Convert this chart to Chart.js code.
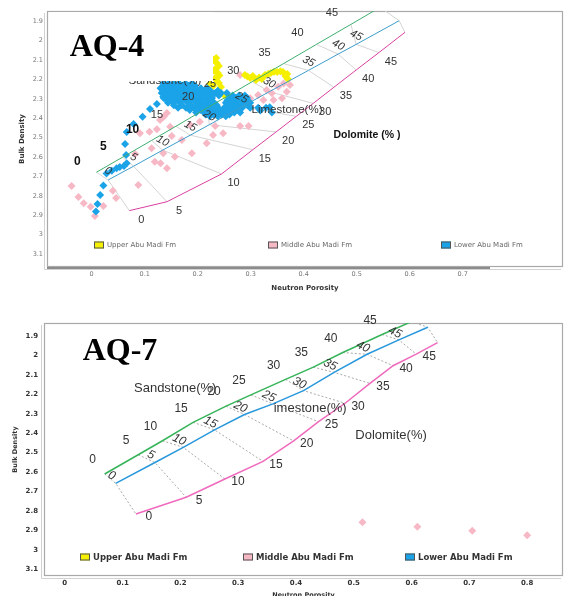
<!DOCTYPE html>
<html>
<head>
<meta charset="utf-8">
<script src="https://cdn.jsdelivr.net/npm/chart.js@4.4.1/dist/chart.umd.min.js"></script>
<style>
  html, body { margin: 0; padding: 0; background: #fff; }
  body { width: 567px; height: 596px; position: relative; overflow: hidden; }
  canvas { position: absolute; left: 0; }
  #aq4 { top: 0; }
  #aq7 { top: 300px; }
</style>
</head>
<body>
<canvas id="aq4" width="567" height="296"></canvas>
<canvas id="aq7" width="567" height="296"></canvas>
<script>
// ---- axis ticks ----
const porosityTicks = [0, 5, 10, 15, 20, 25, 30, 35, 40, 45];
const densityTicks = [1.9, 2, 2.1, 2.2, 2.3, 2.4, 2.5, 2.6, 2.7, 2.8, 2.9, 3, 3.1];
const neutronTicksAQ4 = [0, 0.1, 0.2, 0.3, 0.4, 0.5, 0.6, 0.7];
const neutronTicksAQ7 = [0, 0.1, 0.2, 0.3, 0.4, 0.5, 0.6, 0.7, 0.8];

// ---- AQ-4 lithology lines: [neutron porosity, bulk density] at 0..45 %, last point = line end ----
const aq4Sandstone = [[0.009, 2.678], [0.058, 2.601], [0.113, 2.514], [0.159, 2.441], [0.218, 2.346],
  [0.259, 2.281], [0.303, 2.211], [0.362, 2.118], [0.424, 2.019], [0.489, 1.916], [0.544, 1.828]];
const aq4Limestone = [[0.031, 2.718], [0.079, 2.647], [0.134, 2.564], [0.186, 2.487], [0.222, 2.433],
  [0.283, 2.341], [0.335, 2.263], [0.409, 2.153], [0.465, 2.069], [0.499, 2.019], [0.580, 1.897]];
const aq4Dolomite = [[0.071, 2.876], [0.142, 2.830], [0.245, 2.687], [0.304, 2.562], [0.348, 2.470],
  [0.386, 2.390], [0.418, 2.323], [0.457, 2.240], [0.499, 2.151], [0.542, 2.061], [0.591, 1.957]];

// ---- AQ-4 well data ----
const aq4Upper = [[0.235, 2.089], [0.236, 2.115], [0.235, 2.141], [0.238, 2.166], [0.233, 2.192],
  [0.240, 2.218], [0.229, 2.233], [0.244, 2.239], [0.223, 2.223], [0.250, 2.280], [0.257, 2.290],
  [0.230, 2.100], [0.240, 2.130], [0.231, 2.155], [0.241, 2.180], [0.236, 2.205],
  [0.289, 2.177], [0.299, 2.192], [0.304, 2.182], [0.310, 2.203], [0.321, 2.197], [0.327, 2.177],
  [0.338, 2.166], [0.350, 2.161], [0.361, 2.161], [0.369, 2.172], [0.370, 2.197],
  [0.294, 2.185], [0.316, 2.190], [0.333, 2.172], [0.344, 2.160], [0.356, 2.158], [0.366, 2.185]];
const aq4Middle = [[-0.038, 2.749], [-0.025, 2.806], [-0.015, 2.838], [-0.002, 2.856], [0.006, 2.904],
  [0.022, 2.852], [0.040, 2.773], [0.046, 2.811], [0.088, 2.744], [0.082, 2.584], [0.091, 2.477],
  [0.109, 2.469], [0.123, 2.457], [0.129, 2.409], [0.136, 2.392], [0.142, 2.373], [0.151, 2.491],
  [0.170, 2.512], [0.189, 2.580], [0.119, 2.624], [0.130, 2.632], [0.142, 2.658], [0.135, 2.580],
  [0.113, 2.555], [0.157, 2.598], [0.186, 2.435], [0.204, 2.418], [0.148, 2.443], [0.217, 2.529],
  [0.233, 2.440], [0.248, 2.477], [0.280, 2.440], [0.296, 2.440], [0.229, 2.486], [0.280, 2.177],
  [0.314, 2.280], [0.330, 2.254], [0.352, 2.237], [0.362, 2.220], [0.343, 2.306], [0.340, 2.271],
  [0.368, 2.263], [0.299, 2.297], [0.324, 2.306], [0.359, 2.297], [0.365, 2.177], [0.220, 2.245],
  [0.374, 2.228]];
const aq4Lower = [
  // chain along the sandstone line
  [0.008, 2.881], [0.011, 2.842], [0.016, 2.795], [0.022, 2.747], [0.028, 2.684], [0.038, 2.670],
  [0.047, 2.658], [0.053, 2.651], [0.061, 2.646], [0.066, 2.632], [0.065, 2.589], [0.063, 2.532],
  [0.066, 2.471], [0.079, 2.429], [0.096, 2.392], [0.110, 2.352], [0.123, 2.326], [0.135, 2.289],
  [0.131, 2.244],
  // main cluster
  [0.135, 2.22], [0.145, 2.22], [0.155, 2.22], [0.165, 2.22], [0.177, 2.22], [0.189, 2.22],
  [0.140, 2.2325], [0.150, 2.2325], [0.160, 2.2325], [0.171, 2.2325], [0.183, 2.2325], [0.195, 2.2325],
  [0.130, 2.245], [0.140, 2.245], [0.150, 2.245], [0.160, 2.245], [0.172, 2.245], [0.183, 2.245],
  [0.195, 2.245], [0.206, 2.245], [0.218, 2.245],
  [0.135, 2.2575], [0.145, 2.2575], [0.155, 2.2575], [0.166, 2.2575], [0.177, 2.2575], [0.189, 2.2575],
  [0.200, 2.2575], [0.212, 2.2575], [0.224, 2.2575], [0.238, 2.2575],
  [0.132, 2.27], [0.143, 2.27], [0.153, 2.27], [0.165, 2.27], [0.176, 2.27], [0.187, 2.27],
  [0.199, 2.27], [0.210, 2.27], [0.221, 2.27], [0.233, 2.27], [0.244, 2.27], [0.255, 2.27],
  [0.138, 2.2825], [0.148, 2.2825], [0.159, 2.2825], [0.170, 2.2825], [0.181, 2.2825], [0.193, 2.2825],
  [0.205, 2.2825], [0.216, 2.2825], [0.227, 2.2825], [0.240, 2.2825], [0.266, 2.2825], [0.278, 2.2825],
  [0.289, 2.2825],
  [0.136, 2.295], [0.148, 2.295], [0.159, 2.295], [0.170, 2.295], [0.182, 2.295], [0.193, 2.295],
  [0.204, 2.295], [0.216, 2.295], [0.227, 2.295], [0.261, 2.295], [0.272, 2.295], [0.284, 2.295],
  [0.293, 2.295],
  [0.142, 2.3075], [0.153, 2.3075], [0.164, 2.3075], [0.176, 2.3075], [0.188, 2.3075], [0.199, 2.3075],
  [0.210, 2.3075], [0.222, 2.3075], [0.256, 2.3075], [0.268, 2.3075], [0.280, 2.3075], [0.292, 2.3075],
  [0.144, 2.32], [0.155, 2.32], [0.167, 2.32], [0.182, 2.32], [0.197, 2.32], [0.208, 2.32],
  [0.219, 2.32], [0.231, 2.32], [0.253, 2.32], [0.265, 2.32], [0.276, 2.32], [0.288, 2.32],
  [0.299, 2.32],
  [0.155, 2.3325], [0.170, 2.3325], [0.187, 2.3325], [0.200, 2.3325], [0.212, 2.3325], [0.224, 2.3325],
  [0.236, 2.3325], [0.259, 2.3325], [0.270, 2.3325], [0.282, 2.3325], [0.294, 2.3325],
  [0.163, 2.345], [0.178, 2.345], [0.193, 2.345], [0.204, 2.345], [0.216, 2.345], [0.227, 2.345],
  [0.238, 2.345], [0.250, 2.345], [0.261, 2.345], [0.272, 2.345], [0.284, 2.345], [0.299, 2.345],
  [0.314, 2.345], [0.329, 2.345],
  [0.185, 2.3575], [0.205, 2.3575], [0.218, 2.3575], [0.230, 2.3575], [0.242, 2.3575], [0.254, 2.3575],
  [0.266, 2.3575], [0.277, 2.3575],
  [0.197, 2.37], [0.212, 2.37], [0.223, 2.37], [0.235, 2.37], [0.246, 2.37], [0.257, 2.37],
  [0.269, 2.37], [0.280, 2.37], [0.340, 2.37],
  [0.215, 2.38], [0.230, 2.38], [0.245, 2.38], [0.260, 2.38],
  [0.223, 2.39], [0.238, 2.39], [0.253, 2.39],
  [0.318, 2.36], [0.336, 2.343]];

// ---- AQ-7 lithology lines ----
const aq7Sandstone = [[0.069, 2.610], [0.127, 2.511], [0.169, 2.439], [0.222, 2.344], [0.279, 2.261],
  [0.322, 2.203], [0.382, 2.123], [0.430, 2.060], [0.481, 1.985], [0.549, 1.892], [0.600, 1.826]];
const aq7Limestone = [[0.088, 2.658], [0.156, 2.551], [0.205, 2.473], [0.259, 2.383], [0.311, 2.304],
  [0.360, 2.249], [0.413, 2.181], [0.466, 2.087], [0.523, 1.994], [0.578, 1.920], [0.628, 1.855]];
const aq7Dolomite = [[0.123, 2.816], [0.210, 2.730], [0.277, 2.636], [0.343, 2.545], [0.396, 2.440],
  [0.439, 2.341], [0.485, 2.246], [0.528, 2.144], [0.568, 2.053], [0.608, 1.993], [0.645, 1.934]];

// ---- AQ-7 well data ----
const aq7Upper = [];
const aq7Middle = [[0.515, 2.858], [0.610, 2.881], [0.705, 2.902], [0.800, 2.925]];
const aq7Lower = [];

const formations = ['Upper Abu Madi Fm', 'Middle Abu Madi Fm', 'Lower Abu Madi Fm'];
const formationColors = ['#f5f000', '#f7b8c6', '#1ba3e8'];

const toXY = arr => arr.map(([x, y]) => ({ x, y }));

/**
 * Frame, porosity labels, lithology names, legend and panel title
 */
const overlayPlugin = {
    id: 'overlay',
    beforeDatasetsDraw(chart, args, o) {
        const { ctx, chartArea: a } = chart;
        ctx.save();
        ctx.strokeStyle = '#d2d2d2';
        ctx.lineWidth = 1;
        ctx.beginPath();
        ctx.moveTo(a.left - 2.5, a.top + 2);
        ctx.lineTo(a.left - 2.5, a.bottom + 2.5);
        ctx.lineTo(a.right - 2, a.bottom + 2.5);
        ctx.stroke();
        ctx.strokeStyle = '#a9a9a9';
        ctx.lineWidth = 1.2;
        ctx.strokeRect(a.left + 0.5, a.top + 0.5, a.width - 1, a.height - 1);
        if (o.shadowTo) {
            ctx.strokeStyle = '#8c8c8c';
            ctx.lineWidth = 2;
            ctx.beginPath();
            ctx.moveTo(a.left, a.bottom + 1);
            ctx.lineTo(chart.scales.x.getPixelForValue(o.shadowTo), a.bottom + 1);
            ctx.stroke();
        }
        ctx.restore();
    },
    afterDatasetsDraw(chart, args, o) {
        const { ctx, scales: { x, y } } = chart;
        ctx.save();
        ctx.fillStyle = '#333';
        ctx.textAlign = 'center';
        ctx.textBaseline = 'middle';

        o.families.forEach(f => {
            porosityTicks.forEach((p, i) => {
                const pt = f.points[i];
                const bold = f.bold && f.bold.includes(p);
                ctx.save();
                ctx.translate(x.getPixelForValue(pt[0]) + f.dx, y.getPixelForValue(pt[1]) + f.dy);
                ctx.rotate(f.rotate || 0);
                ctx.font = bold ? o.boldFont : (f.italic ? 'italic ' : '') + o.font;
                ctx.fillStyle = bold ? '#111' : '#333';
                ctx.fillText(String(p), 0, 0);
                ctx.restore();
            });
        });

        o.names.forEach(n => {
            ctx.font = n.font;
            ctx.fillStyle = n.color || '#333';
            ctx.fillText(n.text, x.getPixelForValue(n.x), y.getPixelForValue(n.y));
        });

        // legend inside the frame
        const lg = o.legend;
        ctx.textAlign = 'left';
        ctx.font = lg.font;
        formations.forEach((name, i) => {
            const lx = lg.xs[i];
            ctx.fillStyle = formationColors[i];
            ctx.fillRect(lx, lg.y - lg.box[1] / 2, lg.box[0], lg.box[1]);
            ctx.strokeStyle = '#555';
            ctx.lineWidth = 1;
            ctx.strokeRect(lx + 0.5, lg.y - lg.box[1] / 2 + 0.5, lg.box[0] - 1, lg.box[1] - 1);
            ctx.fillStyle = lg.color;
            ctx.fillText(name, lx + lg.box[0] + 3, lg.y + 0.5);
        });

        // panel title on its white patch
        const t = o.title;
        if (t.box) {
            ctx.fillStyle = '#fff';
            ctx.fillRect(t.box[0], t.box[1], t.box[2], t.box[3]);
        }
        ctx.fillStyle = '#000';
        ctx.textAlign = 'center';
        ctx.font = 'bold 32px "Liberation Serif", "Times New Roman", serif';
        ctx.fillText(t.text, t.x, t.y);
        ctx.restore();
    }
};

function lithologyDatasets(lines, colors, width, connector) {
    const [sand, lime, dolo] = lines;
    const connectors = sand.map((p, i) => ({
        data: toXY([sand[i], lime[i], dolo[i]]),
        showLine: true,
        borderColor: connector.color,
        borderWidth: 1,
        borderDash: connector.dash,
        pointRadius: 0,
        order: 3,
    }));
    const curves = lines.map((pts, i) => ({
        data: toXY(pts),
        showLine: true,
        borderColor: colors[i],
        borderWidth: width,
        pointRadius: 0,
        order: 0,
    }));
    return curves.concat(connectors);
}

function wellDatasets(sets) {
    return sets.map((pts, i) => ({
        label: formations[i],
        data: toXY(pts),
        backgroundColor: formationColors[i],
        borderWidth: 0,
        pointStyle: 'rectRot',
        pointRadius: 4,
        order: i === 2 ? 1 : 2,
    }));
}

function makeChart(id, cfg) {
    return new Chart(document.getElementById(id), {
        type: 'scatter',
        data: { datasets: wellDatasets(cfg.wells).concat(lithologyDatasets(cfg.lines, cfg.lineColors, cfg.lineWidth, cfg.connector)) },
        options: {
            responsive: false,
            animation: false,
            devicePixelRatio: 1,
            layout: { padding: cfg.padding },
            plugins: {
                legend: { display: false },
                tooltip: { enabled: false },
                overlay: cfg.overlay,
            },
            scales: {
                x: {
                    type: 'linear',
                    min: cfg.xRange[0],
                    max: cfg.xRange[1],
                    afterBuildTicks: axis => { axis.ticks = cfg.xTicks.map(value => ({ value })); },
                    afterFit: s => { s.height = cfg.xAxisHeight; },
                    grid: { display: false, drawTicks: false },
                    border: { display: false },
                    ticks: {
                        autoSkip: false, maxRotation: 0, padding: cfg.xTickPad,
                        color: cfg.tickColor, font: cfg.tickFont,
                        callback: v => String(Math.round(v * 10) / 10),
                    },
                    title: {
                        display: true, text: 'Neutron Porosity', color: '#333',
                        font: cfg.titleFont, padding: { top: 0, bottom: cfg.xTitlePad },
                    },
                },
                y: {
                    type: 'linear',
                    reverse: true,
                    min: cfg.yRange[0],
                    max: cfg.yRange[1],
                    afterBuildTicks: axis => { axis.ticks = densityTicks.map(value => ({ value })); },
                    afterFit: s => { s.width = cfg.yAxisWidth; },
                    grid: { display: false, drawTicks: false },
                    border: { display: false },
                    ticks: {
                        autoSkip: false, padding: cfg.yTickPad,
                        color: cfg.tickColor, font: cfg.tickFont,
                        callback: v => String(Math.round(v * 10) / 10),
                    },
                    title: {
                        display: true, text: 'Bulk Density', color: '#333',
                        font: cfg.titleFont, padding: { top: cfg.yTitlePad, bottom: 0 },
                    },
                },
            },
        },
        plugins: [overlayPlugin],
    });
}

// ---- AQ-4 ----
makeChart('aq4', {
    wells: [aq4Upper, aq4Middle, aq4Lower],
    lines: [aq4Sandstone, aq4Limestone, aq4Dolomite],
    lineColors: ['#3fae6e', '#3d9dcc', '#da3fa0'],
    lineWidth: 1,
    connector: { color: '#d4d4d4', dash: [] },
    padding: { left: 0, top: 11, right: 4, bottom: 0 },
    xRange: [-0.0843, 0.8892],
    yRange: [1.8469, 3.1665],
    xTicks: neutronTicksAQ4,
    xAxisHeight: 29, yAxisWidth: 47,
    xTickPad: 3, yTickPad: 4,
    tickColor: '#777',
    tickFont: { family: 'DejaVu Sans', size: 6.5 },
    titleFont: { family: 'DejaVu Sans', size: 7, weight: 'bold' },
    xTitlePad: 4, yTitlePad: 18,
    overlay: {
        font: '11px "Liberation Sans", Arial, sans-serif',
        boldFont: 'bold 12px "Liberation Sans", Arial, sans-serif',
        shadowTo: 0.7515,
        families: [
            { points: aq4Sandstone, dx: -19, dy: -11, bold: [0, 5, 10] },
            { points: aq4Limestone, dx: 0, dy: -9, rotate: 0.5, italic: true },
            { points: aq4Dolomite, dx: 12, dy: 9 },
        ],
        names: [
            { text: 'Sandstone(%)', x: 0.1383, y: 2.208, font: '11.5px "Liberation Sans", Arial, sans-serif' },
            { text: 'Limestone(%)', x: 0.3685, y: 2.357, font: '11.5px "Liberation Sans", Arial, sans-serif' },
            { text: 'Dolomite (% )', x: 0.5194, y: 2.486, font: 'bold 10.5px "Liberation Sans", Arial, sans-serif', color: '#111' },
        ],
        legend: { xs: [94, 268, 441], y: 245, box: [10, 7], font: '7px "DejaVu Sans", sans-serif', color: '#666' },
        title: { text: 'AQ-4', x: 107, y: 48, box: [49, 12, 164, 69] },
    },
});

// ---- AQ-7 ----
makeChart('aq7', {
    wells: [aq7Upper, aq7Middle, aq7Lower],
    lines: [aq7Sandstone, aq7Limestone, aq7Dolomite],
    lineColors: ['#36b45a', '#2897dc', '#ef6bbd'],
    lineWidth: 1.5,
    connector: { color: '#a8a8a8', dash: [2, 2] },
    padding: { left: 0, top: 23, right: 1, bottom: 0 },
    xRange: [-0.036, 0.862],
    yRange: [1.833, 3.135],
    xTicks: neutronTicksAQ7,
    xAxisHeight: 20, yAxisWidth: 44,
    xTickPad: 3, yTickPad: 6,
    tickColor: '#333',
    tickFont: { family: 'DejaVu Sans', size: 7, weight: 'bold' },
    titleFont: { family: 'DejaVu Sans', size: 6.5, weight: 'bold' },
    xTitlePad: -3, yTitlePad: 11,
    overlay: {
        font: '12px "Liberation Sans", Arial, sans-serif',
        boldFont: '12px "Liberation Sans", Arial, sans-serif',
        families: [
            { points: aq7Sandstone, dx: -12, dy: -14 },
            { points: aq7Limestone, dx: -4, dy: -7.5, rotate: 0.45, italic: true },
            { points: aq7Dolomite, dx: 13, dy: 3 },
        ],
        names: [
            { text: 'Sandstone(%)', x: 0.191, y: 2.1675, font: '13px "Liberation Sans", Arial, sans-serif' },
            { text: 'imestone(%)', x: 0.4246, y: 2.272, font: '13px "Liberation Sans", Arial, sans-serif' },
            { text: 'Dolomite(%)', x: 0.5645, y: 2.409, font: '13px "Liberation Sans", Arial, sans-serif' },
        ],
        legend: { xs: [80, 243, 405], y: 257, box: [10, 7], font: 'bold 8.5px "DejaVu Sans", sans-serif', color: '#333' },
        title: { text: 'AQ-7', x: 120, y: 52 },
    },
});
</script>
</body>
</html>
